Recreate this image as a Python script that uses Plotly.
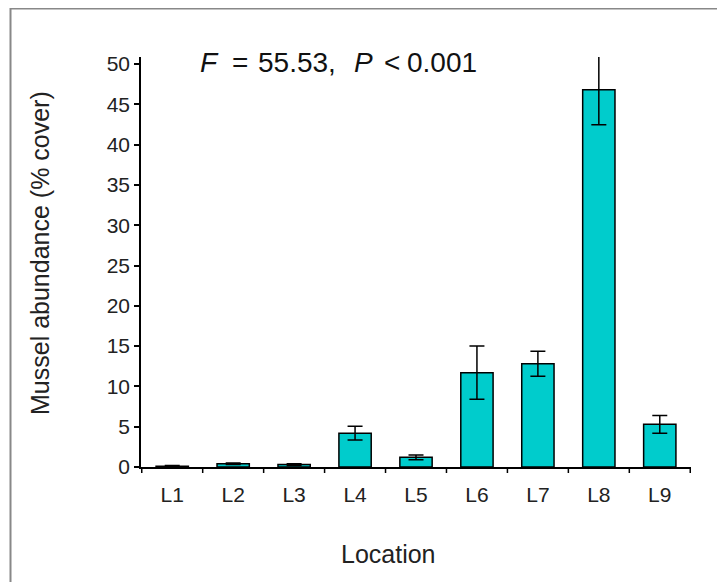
import plotly.graph_objects as go

locations = ["L1", "L2", "L3", "L4", "L5", "L6", "L7", "L8", "L9"]
cover_mean = [0.1, 0.4, 0.3, 4.2, 1.2, 11.7, 12.8, 46.8, 5.3]
cover_se = [0.1, 0.1, 0.1, 0.85, 0.3, 3.3, 1.55, 4.35, 1.1]
y_ticks = [0, 5, 10, 15, 20, 25, 30, 35, 40, 45, 50]

FONT = "Liberation Sans, Arial, sans-serif"
# page body adds an 8px margin; figure coordinates = screen - 8
W, H = 717, 574
L, T = 133, 49
R = W - 683
B = H - 459
pw, ph = W - L - R, H - T - B

def px(x):
    return (x - L) / pw

def py(y):
    return (H - B - y) / ph

fig = go.Figure()
fig.add_trace(go.Bar(
    x=locations, y=cover_mean,
    marker=dict(color="#00CCCC", line=dict(color="black", width=1.5)),
    width=0.53,
    error_y=dict(type="data", array=cover_se, visible=True,
                 color="black", thickness=1.5, width=7.5),
))

stat_parts = [("<i>F</i>", 190), ("=", 222), ("55.53,", 248),
              ("<i>P</i>", 344), ("<", 374), ("0.001", 397)]

annotations = [
    dict(text=t, xref="paper", yref="paper", x=px(x0), y=py(54),
         xanchor="left", yanchor="middle", showarrow=False,
         font=dict(size=28, color="#111"))
    for t, x0 in stat_parts
] + [
    dict(text="Location", xref="paper", yref="paper",
         x=px(380), y=py(546), xanchor="center", yanchor="middle",
         showarrow=False, font=dict(size=25, color="#222")),
    dict(text="Mussel abundance (% cover)", xref="paper", yref="paper",
         x=px(32), y=py(245), xanchor="center", yanchor="middle",
         textangle=-90, showarrow=False, font=dict(size=25, color="#222")),
]

fig.update_layout(
    width=W, height=H,
    margin=dict(l=L, r=R, t=T, b=B),
    paper_bgcolor="white", plot_bgcolor="white",
    showlegend=False,
    font=dict(family=FONT, size=21, color="#222"),
    xaxis=dict(
        showline=True, linecolor="black", linewidth=1.5,
        ticks="", showgrid=False, tickfont=dict(size=21, color="#222"),
        ticklabelstandoff=8,
    ),
    yaxis=dict(
        range=[0, 50.87], tickvals=y_ticks,
        showline=True, linecolor="black", linewidth=1.5,
        ticks="outside", ticklen=5, tickwidth=1.5, tickcolor="black",
        showgrid=False, zeroline=False, tickfont=dict(size=21, color="#222"),
    ),
    shapes=[
        dict(type="line", xref="paper", yref="paper",
             x0=px(2), x1=px(740), y0=py(0.5), y1=py(0.5),
             line=dict(color="#888", width=2)),
        dict(type="line", xref="paper", yref="paper",
             x0=px(2.5), x1=px(2.5), y0=py(0), y1=py(600),
             line=dict(color="#888", width=2)),
    ] + [
        dict(type="line", xref="x", yref="paper",
             x0=i - 0.5, x1=i - 0.5, y0=0, y1=py(H - B + 6),
             line=dict(color="black", width=1.5))
        for i in range(len(locations) + 1)
    ],
    annotations=annotations,
)

fig.write_html("out.html")
